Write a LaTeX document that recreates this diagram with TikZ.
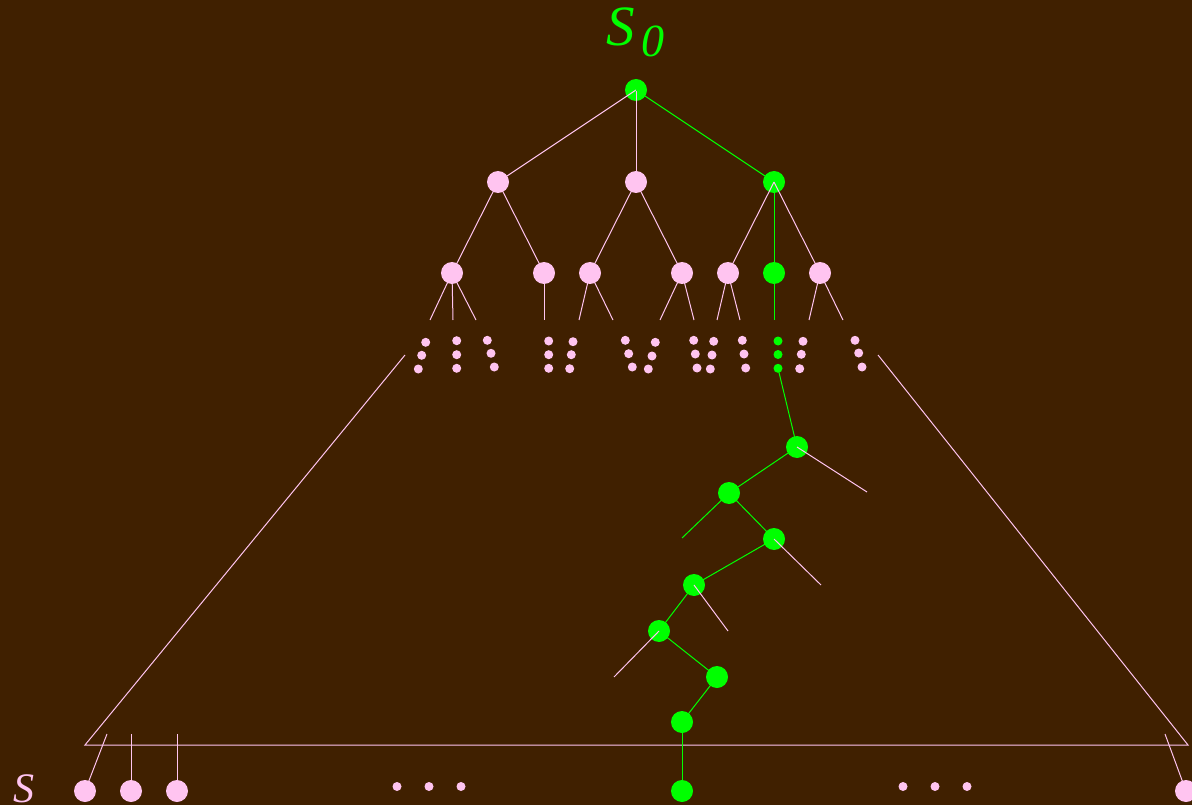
\documentclass[tikz,border=0pt]{standalone}
\usepackage{fontspec}
\setmainfont{Liberation Serif}
\definecolor{bg}{RGB}{64,32,0}
\definecolor{pk}{RGB}{255,196,240}
\definecolor{gr}{RGB}{0,255,0}
\begin{document}
\begin{tikzpicture}[x=1pt,y=-1pt,
  big/.style={circle,inner sep=0pt,minimum size=22pt},
  dot/.style={circle,inner sep=0pt,minimum size=9pt},
  pl/.style={draw=pk,line width=1pt},
  gl/.style={draw=gr,line width=1pt}]
\fill[bg] (0,0) rectangle (1192,805);
\useasboundingbox (0,0) rectangle (1192,805);
% labels
\node[text=gr,anchor=base west,inner sep=0pt] (lS) at (606,46) {\fontsize{57}{57}\selectfont\itshape S};
\node[text=gr,anchor=base west,inner sep=0pt] (l0) at (641,57) {\fontsize{46}{46}\selectfont\itshape 0};
\node[text=pk,anchor=base west,inner sep=0pt,text depth=0pt] (lS2) at (13,802) {\fontsize{42}{42}\selectfont\itshape S};
% top tree nodes
\node[big,fill=gr] (r) at (636,90) {};
\node[big,fill=pk] (a1) at (498,182) {};
\node[big,fill=pk] (a2) at (636,182) {};
\node[big,fill=gr] (a3) at (774,182) {};
\node[big,fill=pk] (b1) at (452,273) {};
\node[big,fill=pk] (b2) at (544,273) {};
\node[big,fill=pk] (b3) at (590,273) {};
\node[big,fill=pk] (b4) at (682,273) {};
\node[big,fill=pk] (b5) at (728,273) {};
\node[big,fill=gr] (b6) at (774,273) {};
\node[big,fill=pk] (b7) at (820,273) {};
% stub ends
\coordinate (s11) at (430,320); \coordinate (s12) at (453,320); \coordinate (s13) at (476,320);
\coordinate (s21) at (544,320);
\coordinate (s31) at (579,320); \coordinate (s32) at (613,320);
\coordinate (s41) at (660,320); \coordinate (s42) at (694,320);
\coordinate (s51) at (717,320); \coordinate (s52) at (740,320);
\coordinate (s61) at (774,320);
\coordinate (s71) at (809,320); \coordinate (s72) at (843,320);
% dots
\foreach \n/\x/\y in {d1/425.7/342.3, d2/421.7/355.3, d3/418.3/369,
  d4/456.7/340.7, d5/456.7/354.7, d6/456.7/368.3,
  d7/487.3/340.3, d8/491/353.3, d9/494.3/367,
  d10/548.7/341, d11/548.7/354.7, d12/548.7/368.3,
  d13/573/341.7, d14/571.3/354.7, d15/569.7/368.7,
  d16/625.3/340.3, d17/628.7/353.7, d18/632.3/367,
  d19/655.3/342.3, d20/652/356, d21/648.3/369,
  d22/693.7/340.3, d23/695.3/354, d24/697/368,
  d25/713.7/341.3, d26/712/355, d27/710.3/369,
  d28/742.3/340.3, d29/744/354, d30/745.7/368,
  d34/803/341.3, d35/801.3/354.3, d36/799.7/368.7,
  d37/855/340.3, d38/858.7/353, d39/862/367,
  e1/397/786.5, e2/429/786.5, e3/461/786.5,
  e4/903/786.5, e5/935/786.5, e6/967/786.5}
  {\node[dot,fill=pk] (\n) at (\x,\y) {};}
\node[dot,fill=gr] (g1) at (778,341) {};
\node[dot,fill=gr] (g2) at (778,354.5) {};
\node[dot,fill=gr] (g3) at (778,368.3) {};
% triangle
\coordinate (tl) at (405,355); \coordinate (tr) at (878,355);
\coordinate (bl) at (85,745); \coordinate (br) at (1188,745);
\draw[pl] (tl) -- (bl) -- (br) -- (tr);
% bottom nodes
\node[big,fill=pk] (c1) at (85,791) {};
\node[big,fill=pk] (c2) at (131,791) {};
\node[big,fill=pk] (c3) at (177,791) {};
\node[big,fill=pk] (c4) at (1186,791) {};
\node[big,fill=gr] (cg) at (682,791) {};
\coordinate (u1) at (107,734); \coordinate (u2) at (131,734);
\coordinate (u3) at (177,734); \coordinate (u4) at (1165,734);
% chain
\node[big,fill=gr] (A) at (797,447) {};
\node[big,fill=gr] (B) at (729,493) {};
\node[big,fill=gr] (C) at (774,539) {};
\node[big,fill=gr] (D) at (694,585) {};
\node[big,fill=gr] (E) at (659,631) {};
\node[big,fill=gr] (F) at (717,677) {};
\node[big,fill=gr] (G) at (682,722) {};
\coordinate (bs) at (682,538);
\coordinate (as) at (867,492); \coordinate (cs) at (821,585);
\coordinate (ds) at (728,631); \coordinate (es) at (614,677);
% top tree edges
\draw[pl] (r.center) -- (a1.center);
\draw[pl] (r.center) -- (a2.center);
\draw[gl] (r.center) -- (a3.center);
\draw[pl] (a1.center) -- (b1.center);
\draw[pl] (a1.center) -- (b2.center);
\draw[pl] (a2.center) -- (b3.center);
\draw[pl] (a2.center) -- (b4.center);
\draw[pl] (a3.center) -- (b5.center);
\draw[gl] (a3.center) -- (b6.center);
\draw[pl] (a3.center) -- (b7.center);
\draw[pl] (b1.center) -- (s11); \draw[pl] (b1.center) -- (s12); \draw[pl] (b1.center) -- (s13);
\draw[pl] (b2.center) -- (s21);
\draw[pl] (b3.center) -- (s31); \draw[pl] (b3.center) -- (s32);
\draw[pl] (b4.center) -- (s41); \draw[pl] (b4.center) -- (s42);
\draw[pl] (b5.center) -- (s51); \draw[pl] (b5.center) -- (s52);
\draw[gl] (b6.center) -- (s61);
\draw[pl] (b7.center) -- (s71); \draw[pl] (b7.center) -- (s72);
% chain edges
\draw[gl] (g3.center) -- (A.center);
\draw[gl] (A.center) -- (B.center);
\draw[gl] (B.center) -- (C.center);
\draw[gl] (C.center) -- (D.center);
\draw[gl] (D.center) -- (E.center);
\draw[gl] (E.center) -- (F.center);
\draw[gl] (F.center) -- (G.center);
\draw[gl] (G.center) -- (cg.center);
\draw[gl] (B.center) -- (bs);
\draw[pl] (A.center) -- (as);
\draw[pl] (C.center) -- (cs);
\draw[pl] (D.center) -- (ds);
\draw[pl] (E.center) -- (es);
% bottom stubs
\draw[pl] (c1.center) -- (u1);
\draw[pl] (c2.center) -- (u2);
\draw[pl] (c3.center) -- (u3);
\draw[pl] (c4.center) -- (u4);
\end{tikzpicture}
\end{document}
